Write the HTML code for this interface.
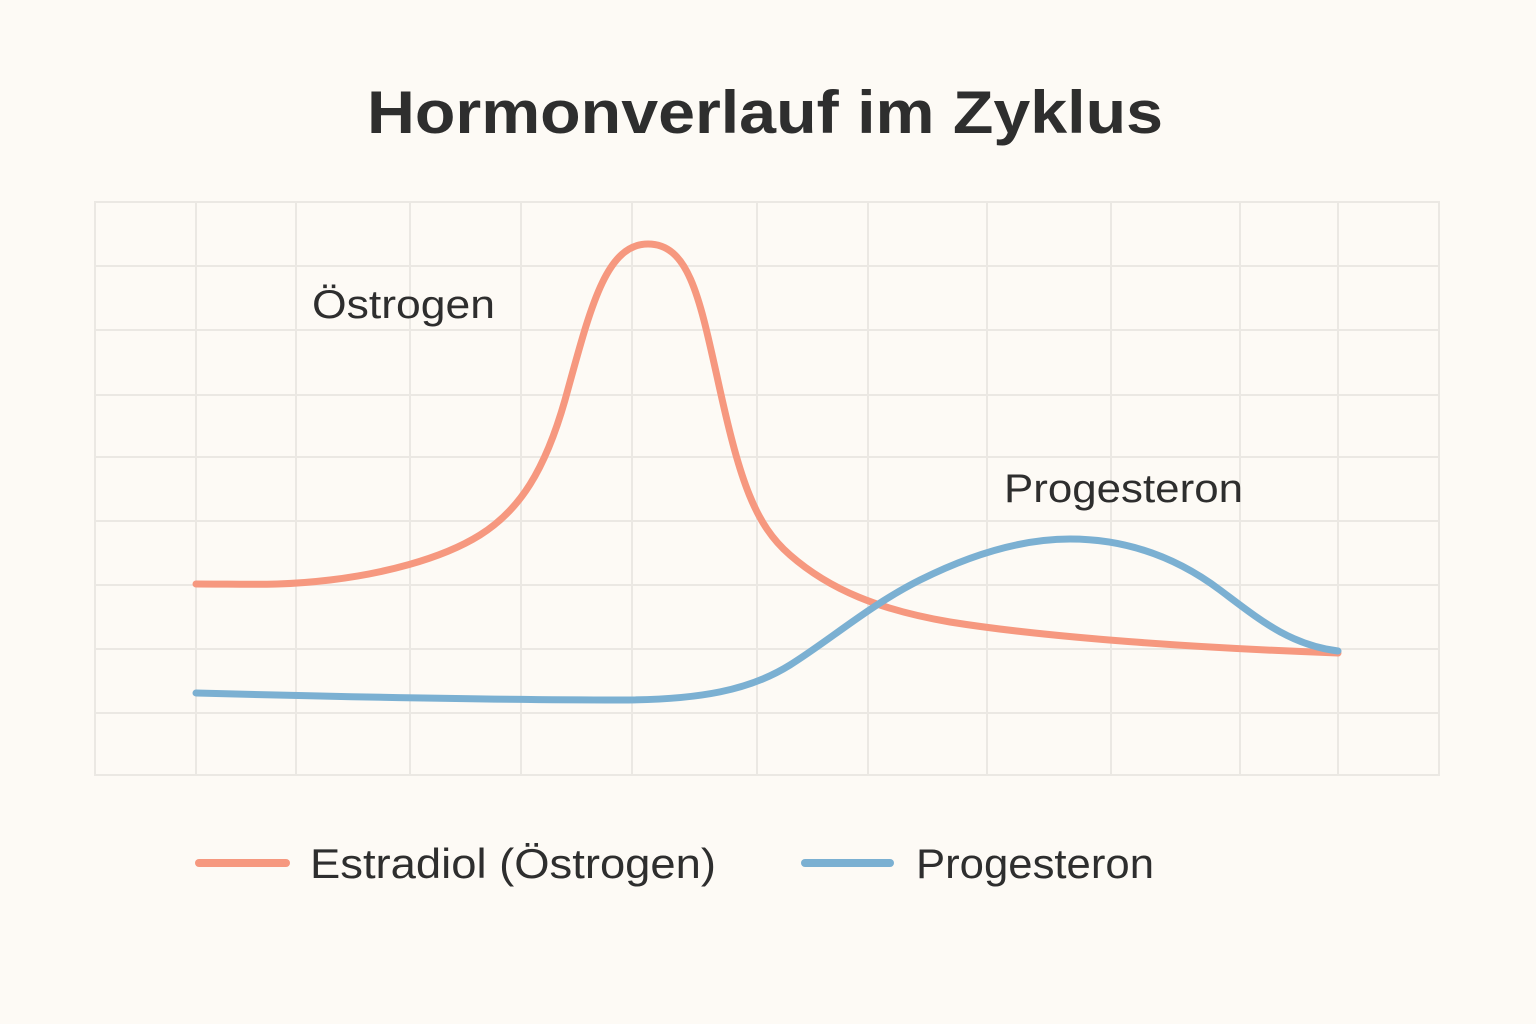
<!DOCTYPE html>
<html><head><meta charset="utf-8"><style>
html,body{margin:0;padding:0;background:#fdfaf5;}
svg{display:block;}
</style></head><body>
<svg width="1536" height="1024" viewBox="0 0 1536 1024" xmlns="http://www.w3.org/2000/svg">
<rect width="1536" height="1024" fill="#fdfaf5"/>
<text x="367" y="133" textLength="796" lengthAdjust="spacingAndGlyphs" font-family="Liberation Sans, DejaVu Sans, sans-serif" font-size="60" font-weight="bold" fill="#2e2e2e">Hormonverlauf im Zyklus</text>
<g stroke="#ebe8e3" stroke-width="2" fill="none">
<rect x="95" y="202" width="1344" height="573"/>
<line x1="196" y1="202" x2="196" y2="775"/><line x1="296" y1="202" x2="296" y2="775"/>
<line x1="410" y1="202" x2="410" y2="775"/><line x1="521" y1="202" x2="521" y2="775"/>
<line x1="632" y1="202" x2="632" y2="775"/><line x1="757" y1="202" x2="757" y2="775"/>
<line x1="868" y1="202" x2="868" y2="775"/><line x1="987" y1="202" x2="987" y2="775"/>
<line x1="1111" y1="202" x2="1111" y2="775"/><line x1="1240" y1="202" x2="1240" y2="775"/>
<line x1="1338" y1="202" x2="1338" y2="775"/>
<line x1="95" y1="266" x2="1439" y2="266"/><line x1="95" y1="330" x2="1439" y2="330"/>
<line x1="95" y1="395" x2="1439" y2="395"/><line x1="95" y1="457" x2="1439" y2="457"/>
<line x1="95" y1="521" x2="1439" y2="521"/><line x1="95" y1="585" x2="1439" y2="585"/>
<line x1="95" y1="649" x2="1439" y2="649"/><line x1="95" y1="713" x2="1439" y2="713"/>
</g>
<path d="M196,584 C250,584 280,586 330,580 C380,574 440,560 480,535 C520,510 545,470 565,400 C590,310 605,244 648,244 C690,244 700,300 720,390 C740,480 755,525 790,555 C830,590 880,610 950,622 C1050,638 1200,648 1338,653" fill="none" stroke="#f6987f" stroke-width="7" stroke-linecap="round"/>
<path d="M196,693 C350,697 500,700 620,700 C700,700 750,690 790,665 C830,640 870,605 920,580 C970,555 1020,539 1070,539 C1130,539 1180,560 1220,590 C1260,620 1290,645 1338,651" fill="none" stroke="#7bb0d2" stroke-width="7" stroke-linecap="round"/>
<g font-family="Liberation Sans, DejaVu Sans, sans-serif" fill="#2e2e2e" lengthAdjust="spacingAndGlyphs">
<text x="312" y="318" font-size="40" textLength="183" lengthAdjust="spacingAndGlyphs">Östrogen</text>
<text x="1004" y="502" font-size="40" textLength="239" lengthAdjust="spacingAndGlyphs">Progesteron</text>
<text x="310" y="878" font-size="42" textLength="406" lengthAdjust="spacingAndGlyphs">Estradiol (Östrogen)</text>
<text x="916" y="878" font-size="42" textLength="238" lengthAdjust="spacingAndGlyphs">Progesteron</text>
</g>
<line x1="199" y1="863" x2="286" y2="863" stroke="#f6987f" stroke-width="8" stroke-linecap="round"/>
<line x1="805" y1="863" x2="890" y2="863" stroke="#7bb0d2" stroke-width="8" stroke-linecap="round"/>
</svg>
</body></html>
